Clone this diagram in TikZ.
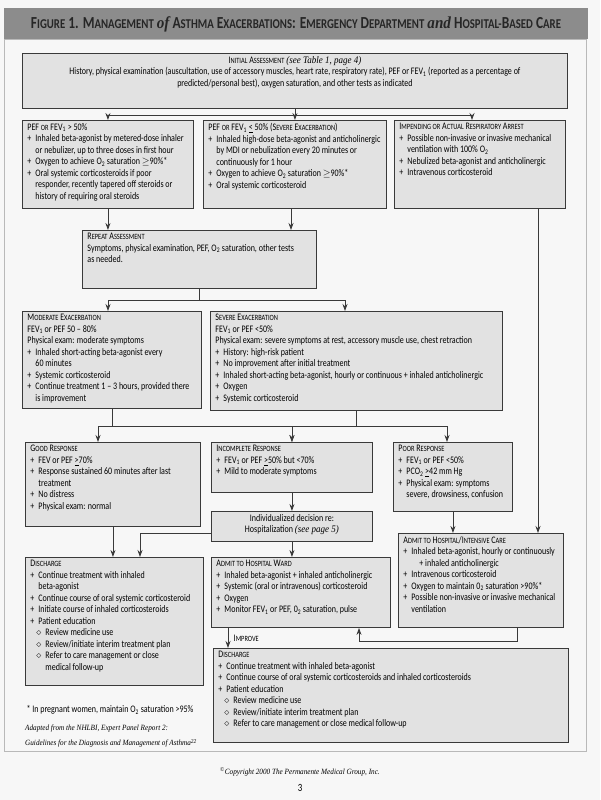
\documentclass[tikz,border=0pt]{standalone}
\usepackage{fontspec}
\setmainfont[FakeStretch=0.8]{Carlito}
\newfontfamily\refit[FakeStretch=0.9]{Liberation Serif}
\usepackage{graphicx}
\usetikzlibrary{arrows.meta,calc}
\definecolor{boxfill}{HTML}{E2E2E2}
\definecolor{boxline}{HTML}{3A3A3A}
\definecolor{barfill}{HTML}{8C8C8C}
\definecolor{pagefill}{HTML}{F7F7F7}
\tikzset{
  box/.style={draw=boxline, fill=boxfill, line width=0.9pt, anchor=north west,
    inner xsep=5pt, inner ysep=3pt, font=\fontsize{10}{11.5}\selectfont},
  flow/.style={draw=boxline, line width=0.8pt, -{Stealth[length=7pt,width=5pt]}},
  wire/.style={draw=boxline, line width=0.8pt},
}
% small caps by hand: capital + shrunk rest
\newcommand\Sc[2]{#1\scalebox{0.8}{\MakeUppercase{#2}}}
% fixed-size text block: width, height (px), text
\newcommand\bx[3]{\parbox[t][\dimexpr#2pt-6pt\relax][t]{\dimexpr#1pt-10pt\relax}{\raggedright#3}}
\newcommand\pl{\makebox[8pt][l]{+}}
\newcommand\ct{\hspace*{8pt}}
\newcommand\dm{\hspace*{6pt}\makebox[9pt][l]{$\diamond$}}
\newcommand\dc{\hspace*{15pt}}
\newcommand\sub[1]{\textsubscript{#1}}

\begin{document}
\begin{tikzpicture}[x=1pt, y=-1pt]
  \useasboundingbox (0,0) rectangle (600,800);
  \fill[pagefill] (0,0) rectangle (600,800);
  % title bar and frame
  \fill[barfill] (4,8) rectangle (588,39);
  \draw[gray!55, line width=0.8pt] (4,39) rectangle (586,751);
  \node[text=black!85, font=\bfseries\fontsize{13}{15}\selectfont] (title) at (296,24)
    {\resizebox{530pt}{!}{\Sc{F}{igure} 1. \Sc{M}{anagement} {\refit\itshape of} \Sc{A}{sthma} \Sc{E}{xacerbations}: \Sc{E}{mergency} \Sc{D}{epartment} {\refit\itshape and} \Sc{H}{ospital-}\Sc{B}{ased} \Sc{C}{are}}};

  % first assessment
  \node[box] (init) at (22,53) {\bx{545}{55}{\centering
    \Sc{I}{nitial} \Sc{A}{ssessment} {\refit\itshape (see Table 1, page 4)}\\
    History, physical examination (auscultation, use of accessory muscles, heart rate, respiratory rate), PEF or FEV\sub1 (reported as a percentage of\\
    predicted/personal best), oxygen saturation, and other tests as indicated}};

  % three first branches
  \node[box] (mild) at (22,120) {\bx{171}{88}{%
    PEF \Sc{}{or} FEV\sub1 > 50\%\\
    \pl Inhaled beta-agonist by metered-dose inhaler\\
    \ct or nebulizer, up to three doses in first hour\\
    \pl Oxygen to achieve O\sub2 saturation $\geq$90\%*\\
    \pl Oral systemic corticosteroids if poor\\
    \ct responder, recently tapered off steroids or\\
    \ct history of requiring oral steroids}};
  \node[box] (sevone) at (203,120) {\bx{183}{88}{%
    PEF \Sc{}{or} FEV\sub1 \underline{<} 50\% (\Sc{S}{evere} \Sc{E}{xacerbation})\\
    \pl Inhaled high-dose beta-agonist and anticholinergic\\
    \ct by MDI or nebulization every 20 minutes or\\
    \ct continuously for 1 hour\\
    \pl Oxygen to achieve O\sub2 saturation $\geq$90\%*\\
    \pl Oral systemic corticosteroid}};
  \node[box] (arrest) at (394,120) {\bx{171}{88}{%
    \Sc{I}{mpending or} \Sc{A}{ctual} \Sc{R}{espiratory} \Sc{A}{rrest}\\
    \pl Possible non-invasive or invasive mechanical\\
    \ct ventilation with 100\% O\sub2\\
    \pl Nebulized beta-agonist and anticholinergic\\
    \pl Intravenous corticosteroid}};

  \node[box] (repeat) at (82,230) {\bx{234}{58}{%
    \Sc{R}{epeat} \Sc{A}{ssessment}\\
    Symptoms, physical examination, PEF, O\sub2 saturation, other tests\\
    as needed.}};

  % exacerbation level
  \node[box] (moderate) at (22,311) {\bx{179}{97}{%
    \Sc{M}{oderate} \Sc{E}{xacerbation}\\
    FEV\sub1 or PEF 50 -- 80\%\\
    Physical exam: moderate symptoms\\
    \pl Inhaled short-acting beta-agonist every\\
    \ct 60 minutes\\
    \pl Systemic corticosteroid\\
    \pl Continue treatment 1 -- 3 hours, provided there\\
    \ct is improvement}};
  \node[box] (severe) at (210,311) {\bx{292}{99}{%
    \Sc{S}{evere} \Sc{E}{xacerbation}\\
    FEV\sub1 or PEF <50\%\\
    Physical exam: severe symptoms at rest, accessory muscle use, chest retraction\\
    \pl History: high-risk patient\\
    \pl No improvement after initial treatment\\
    \pl Inhaled short-acting beta-agonist, hourly or continuous + inhaled anticholinergic\\
    \pl Oxygen\\
    \pl Systemic corticosteroid}};

  % responses
  \node[box] (good) at (25,442) {\bx{175}{84}{%
    \Sc{G}{ood} \Sc{R}{esponse}\\
    \pl FEV or PEF \underline{>}70\%\\
    \pl Response sustained 60 minutes after last\\
    \ct treatment\\
    \pl No distress\\
    \pl Physical exam: normal}};
  \node[box] (incomplete) at (211,442) {\bx{161}{50}{%
    \Sc{I}{ncomplete} \Sc{R}{esponse}\\
    \pl FEV\sub1 or PEF \underline{>}50\% but <70\%\\
    \pl Mild to moderate symptoms}};
  \node[box] (poor) at (393,442) {\bx{119}{69}{%
    \Sc{P}{oor} \Sc{R}{esponse}\\
    \pl FEV\sub1 or PEF <50\%\\
    \pl PCO\sub2 \underline{>}42 mm Hg\\
    \pl Physical exam: symptoms\\
    \ct severe, drowsiness, confusion}};
  \node[box] (decision) at (211,511) {\bx{161}{30}{\centering
    Individualized decision re:\\
    Hospitalization {\refit\itshape (see page 5)}}};

  % outcomes
  \node[box] (disone) at (25,557) {\bx{178}{128}{%
    \Sc{D}{ischarge}\\
    \pl Continue treatment with inhaled\\
    \ct beta-agonist\\
    \pl Continue course of oral systemic corticosteroid\\
    \pl Initiate course of inhaled corticosteroids\\
    \pl Patient education\\
    \dm Review medicine use\\
    \dm Review/initiate interim treatment plan\\
    \dm Refer to care management or close\\
    \dc medical follow-up}};
  \node[box] (ward) at (211,557) {\bx{179}{70}{%
    \Sc{A}{dmit to} \Sc{H}{ospital} \Sc{W}{ard}\\
    \pl Inhaled beta-agonist + inhaled anticholinergic\\
    \pl Systemic (oral or intravenous) corticosteroid\\
    \pl Oxygen\\
    \pl Monitor FEV\sub1 or PEF, 0\sub2 saturation, pulse}};
  \node[box] (icu) at (398,533) {\bx{165}{94}{%
    \Sc{A}{dmit to} \Sc{H}{ospital}/\Sc{I}{ntensive} \Sc{C}{are}\\
    \pl Inhaled beta-agonist, hourly or continuously\\
    \ct\ct + inhaled anticholinergic\\
    \pl Intravenous corticosteroid\\
    \pl Oxygen to maintain 0\sub2 saturation >90\%*\\
    \pl Possible non-invasive or invasive mechanical\\
    \ct ventilation}};
  \node[box] (distwo) at (213,648) {\bx{355}{94}{%
    \Sc{D}{ischarge}\\
    \pl Continue treatment with inhaled beta-agonist\\
    \pl Continue course of oral systemic corticosteroids and inhaled corticosteroids\\
    \pl Patient education\\
    \dm Review medicine use\\
    \dm Review/initiate interim treatment plan\\
    \dm Refer to care management or close medical follow-up}};

  % connectors
  \draw[wire] (init.south) -- ++(0,6) coordinate (jinit);
  \draw[flow] (jinit) -| (mild.north);
  \draw[flow] (jinit) -- (sevone.north);
  \draw[flow] (jinit) -| ($(arrest.north west)+(78,0)$);
  \draw[flow] (mild.south) -- (mild.south |- repeat.north);
  \draw[flow] ($(sevone.south west)+(88,0)$) coordinate (s1) -- (s1 |- repeat.north);
  \draw[flow] ($(arrest.south west)+(144,0)$) coordinate (s2) -- (s2 |- icu.north);

  \draw[wire] (repeat.south) -- ++(0,11) coordinate (jrep);
  \draw[flow] (jrep) -| ($(moderate.north west)+(86,0)$);
  \draw[flow] (jrep) -| ($(severe.north west)+(135,0)$);

  \coordinate (jlev) at (0,426);
  \draw[wire] (moderate.south) -- (moderate.south |- jlev) coordinate (m1);
  \draw[wire] (severe.south) -- (severe.south |- jlev) coordinate (m2);
  \draw[flow] (m1) -| ($(good.north west)+(73,0)$);
  \draw[flow] (m1) -| (incomplete.north);
  \draw[flow] (m2) -| (incomplete.north);
  \draw[flow] (m2) -| ($(poor.north west)+(54,0)$);

  \draw[flow] (incomplete.south) -- (decision.north);
  \draw[flow] (poor.south) -- (poor.south |- icu.north);
  \draw[flow] (decision.south) -- (decision.south |- ward.north);
  \draw[flow] ($(decision.west)+(0,7)$) -| ($(disone.north west)+(115,0)$);
  \draw[flow] (good.south) -- (good.south |- disone.north);
  \draw[flow] ($(icu.south west)+(119,0)$) -- ++(0,13) -| ($(ward.south west)+(148,0)$);
  \draw[flow] ($(ward.south west)+(17,0)$) coordinate (w1) -- node[right, xshift=2pt, font=\fontsize{10}{12}\selectfont] (improve) {\Sc{I}{mprove}} (w1 |- distwo.north);

  % notes
  \node[anchor=west, font=\fontsize{10}{12}\selectfont] (note) at (23,710)
    {* In pregnant women, maintain O\sub2 saturation >95\%};
  \node[anchor=north west, align=left, inner sep=0pt, font=\refit\itshape\fontsize{8}{15}\selectfont] (source) at (25,725)
    {Adapted from the NHLBI, Expert Panel Report 2:\\ Guidelines for the Diagnosis and Management of Asthma\textsuperscript{22}};
  \node[font=\refit\itshape\fontsize{8}{10}\selectfont] (copyright) at (300,772)
    {\textsuperscript{\textcopyright}Copyright 2000 The Permanente Medical Group, Inc.};
  \node[font=\fontsize{11}{12}\selectfont] (page) at (300,788) {3};
\end{tikzpicture}
\end{document}
